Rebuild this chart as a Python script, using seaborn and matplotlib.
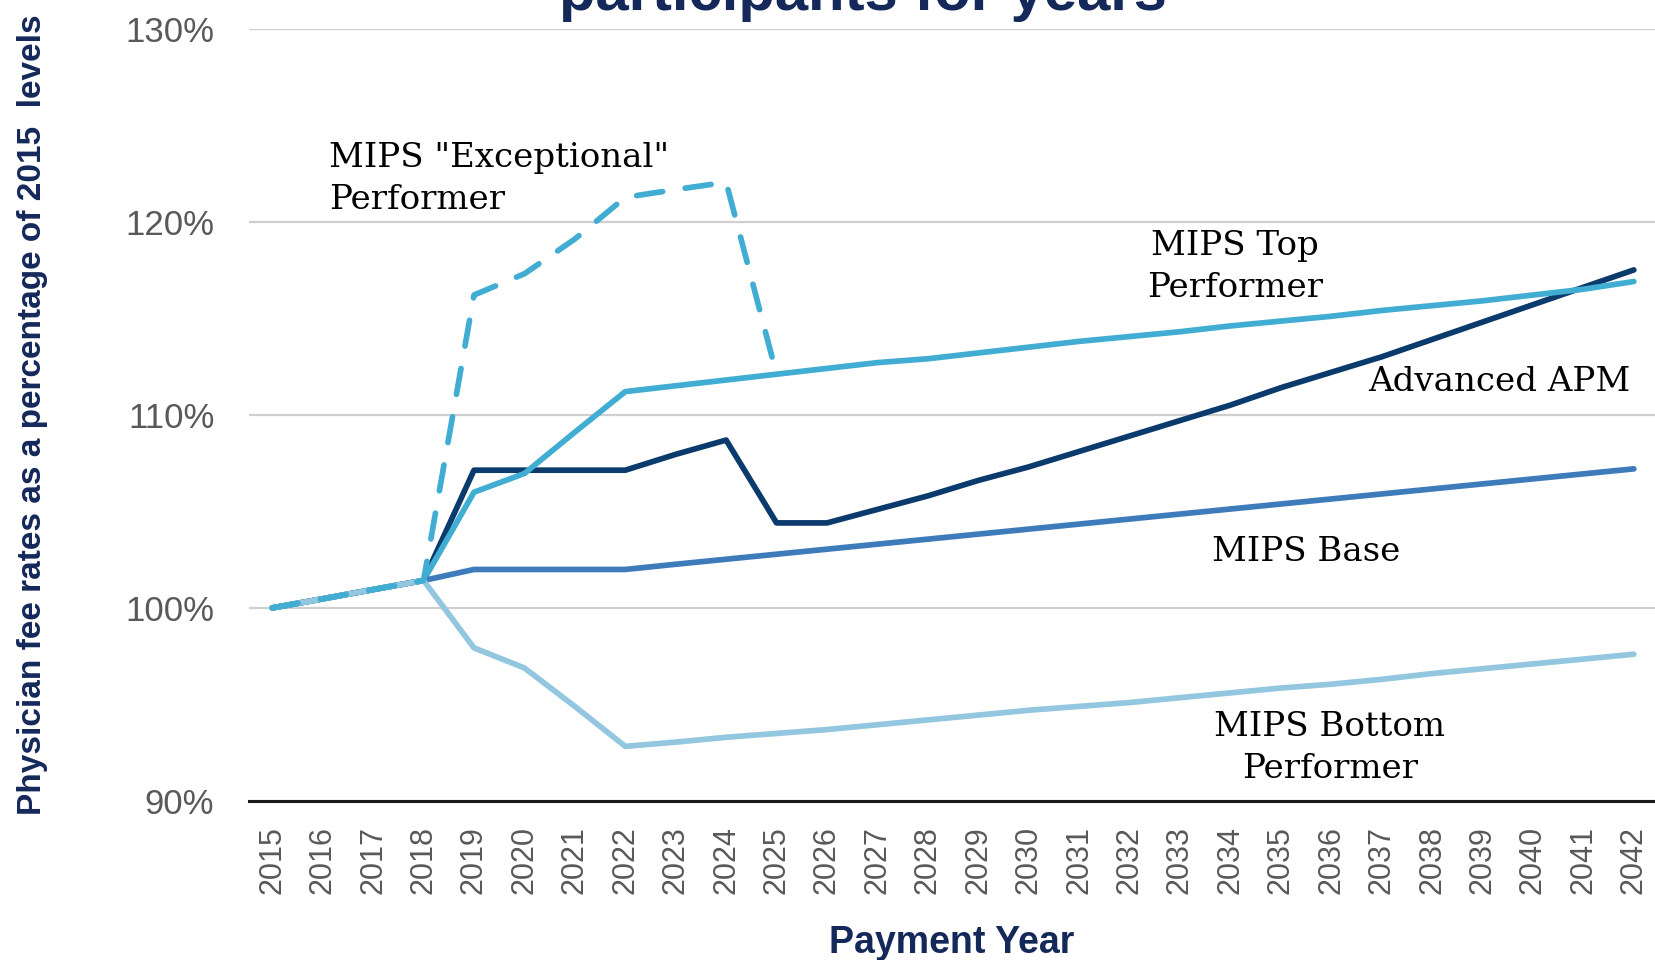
import numpy as np
import pandas as pd
import matplotlib
matplotlib.use("Agg")
import matplotlib.pyplot as plt
import seaborn as sns

years = list(range(2015, 2043))

advanced_apm = [100.0, 100.47, 100.95, 101.42, 107.13, 107.13, 107.13, 107.13, 107.95, 108.69,
                104.4, 104.4, 105.1, 105.8, 106.6, 107.3, 108.1, 108.9, 109.7, 110.5,
                111.4, 112.2, 113.0, 113.9, 114.8, 115.7, 116.6, 117.5]
mips_top = [100.0, 100.47, 100.95, 101.42, 105.99, 106.96, 109.1, 111.2, 111.5, 111.8,
            112.1, 112.4, 112.7, 112.9, 113.2, 113.5, 113.8, 114.05, 114.3, 114.6,
            114.85, 115.1, 115.4, 115.65, 115.9, 116.2, 116.5, 116.9]
mips_base = [100.0, 100.47, 100.95, 101.42, 101.99, 101.99, 101.99, 101.99, 102.26, 102.52,
             102.78, 103.04, 103.3, 103.56, 103.82, 104.08, 104.34, 104.6, 104.86, 105.12,
             105.38, 105.64, 105.9, 106.16, 106.42, 106.68, 106.94, 107.2]
mips_bottom = [100.0, 100.47, 100.95, 101.42, 97.93, 96.89, 94.9, 92.83, 93.05, 93.3,
               93.5, 93.7, 93.95, 94.2, 94.45, 94.7, 94.9, 95.1, 95.35, 95.6,
               95.85, 96.05, 96.3, 96.6, 96.85, 97.1, 97.35, 97.6]
exc_years = list(range(2015, 2026))
mips_exceptional = [100.0, 100.47, 100.95, 101.42, 116.2, 117.3, 119.1, 121.26, 121.66, 122.04, 112.1]

y_ticks = [90, 100, 110, 120, 130]

df = pd.DataFrame({"year": years, "apm": advanced_apm, "top": mips_top,
                   "base": mips_base, "bottom": mips_bottom})
df_exc = pd.DataFrame({"year": exc_years, "exc": mips_exceptional})

sns.set_style("white")
plt.rcParams['font.family'] = ['Liberation Sans', 'DejaVu Sans']

navy = '#14285a'
fig = plt.figure(figsize=(16.55, 9.6), dpi=100)
ax = fig.add_axes([0.1505, 0.1656, 0.8495, 0.8047])

lw = 4.1
sns.lineplot(data=df, x="year", y="apm", color='#0b3a6c', lw=lw, ax=ax)
sns.lineplot(data=df, x="year", y="top", color='#41add3', lw=lw, ax=ax)
sns.lineplot(data=df, x="year", y="base", color='#3e7bba', lw=lw, ax=ax)
sns.lineplot(data=df, x="year", y="bottom", color='#93c7e0', lw=lw, ax=ax)
sns.lineplot(data=df_exc, x="year", y="exc", color='#41add3', lw=lw, ax=ax)
ax.lines[-1].set_dashes((4.6, 4.0))
ax.lines[-1].set_dash_capstyle('round')

ax.set_xlim(2014.54, 2042.42)
ax.set_ylim(90, 130)
ax.set_yticks(y_ticks)
ax.set_yticklabels([f"{v}%" for v in y_ticks])
ax.set_xticks(years)
ax.set_xticklabels([str(y) for y in years], rotation=90)
ax.tick_params(axis='y', length=0, pad=25, labelsize=25, labelcolor='#595959')
ax.tick_params(axis='x', length=0, pad=18, labelsize=22, labelcolor='#595959')

ax.grid(axis='y', color='#cfcfcf', lw=1.6)
ax.set_axisbelow(True)
for s in ['left', 'right', 'top']:
    ax.spines[s].set_visible(False)
ax.spines['bottom'].set_color('#1a1a1a')
ax.spines['bottom'].set_linewidth(2.2)

ax.set_xlabel("Payment Year", fontsize=27, fontweight='bold', color=navy, va='top')
ax.xaxis.set_label_coords(0.5, -0.16)
ax.set_ylabel("Physician fee rates as a percentage of 2015  levels", fontsize=24,
              fontweight='bold', color=navy)
ax.yaxis.set_label_coords(-0.143, 0.5)

fig.text(0.5215, 1 - 10 / 960, "participants for years", fontsize=43, fontweight='bold',
         color=navy, ha='center', va='baseline')

serif = dict(family='DejaVu Serif', fontsize=24.5, color='black', linespacing=1.4)
ax.text(2016.12, 122.2, 'MIPS "Exceptional"\nPerformer', ha='left', va='center', **serif)
ax.text(2034.09, 117.67, 'MIPS Top\nPerformer', ha='center', va='center', **serif)
ax.text(2041.94, 111.69, 'Advanced APM', ha='right', va='center', **serif)
ax.text(2035.5, 102.92, 'MIPS Base', ha='center', va='center', **serif)
ax.text(2035.97, 92.77, 'MIPS Bottom\nPerformer', ha='center', va='center', **serif)

fig.savefig("out.png", dpi=100)
